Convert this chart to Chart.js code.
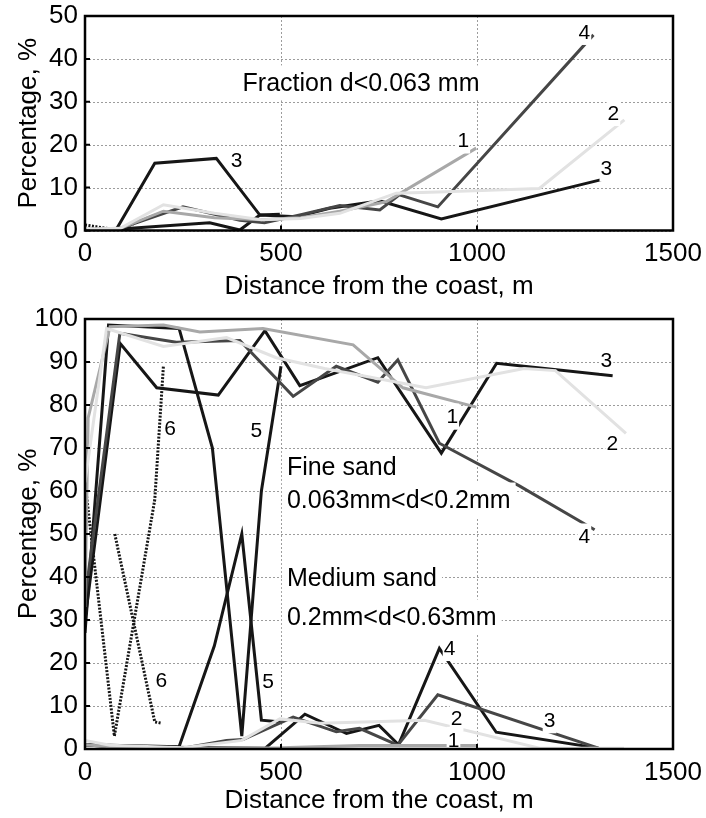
<!DOCTYPE html>
<html>
<head>
<meta charset="utf-8">
<script src="https://cdn.jsdelivr.net/npm/chart.js@4.4.1/dist/chart.umd.min.js"></script>
<style>
  body { margin: 0; background: #fff; }
  canvas { display: block; }
</style>
</head>
<body>
<canvas id="fractionChart" width="706" height="305"></canvas>
<canvas id="sandChart" width="706" height="513"></canvas>
<script>
// fraction d<0.063 mm, [distance m, percentage]
const fraction1 = [[0,0.3],[90,0.5],[200,4.5],[330,3],[450,2.5],[550,3],[650,4.5],[768,6.7],[998,19.2]];
const fraction2 = [[0,0.3],[90,0.5],[200,6],[330,4],[450,2.5],[550,2.8],[650,4],[794,8.7],[900,9],[1159,9.8],[1376,25.8]];
const fraction3 = [[0,0.2],[80,0.3],[178,15.7],[335,16.8],[446,3.6],[497,3.8]];
const fraction3b = [[0,0.2],[80,0.3],[318,1.8],[395,0.1],[446,3.6],[540,3.2],[624,5.2],[752,6.9],[909,2.7],[1346,12.5]];
const fraction4 = [[0,0.2],[90,0.5],[250,5.5],[395,2.4],[458,1.8],[548,3.6],[650,5.8],[752,4.8],[802,8.3],[900,5.5],[1297,45.6]];
const fraction6 = [[0,1.3],[81,0.1],[191,4]];

// fine sand 0.063-0.2 mm
const fine1 = [[0,33],[8,77],[64,98.2],[200,98.6],[293,97],[454,97.8],[684,94],[811,84],[998,79.5]];
const fine2 = [[0,62],[55,97.8],[200,93.6],[361,95.7],[488,91],[611,88.5],[870,84],[1120,88.5],[1200,88],[1380,73.4]];
const fine3 = [[0,30],[90,94.3],[183,84],[340,82.3],[459,97.3],[548,84.5],[747,91],[909,68.8],[1050,89.7],[1346,86.8]];
const fine4 = [[0,35],[89,96.7],[233,94.6],[395,95],[531,82],[641,89],[747,85.3],[798,90.5],[904,71.1],[1108,61.2],[1300,51]];
const fine5 = [[0,27],[60,98.6],[240,97.8],[325,70],[400,3],[450,60],[500,89]];
const fine6 = [[0,62],[75,3],[178,58],[200,89]];

// medium sand 0.2-0.63 mm
const medium1 = [[0,1],[64,0.5],[250,0.2],[500,0.3],[700,0.8],[1000,0.8]];
const medium2 = [[0,2],[64,0.9],[250,0.3],[400,2],[497,7],[600,6],[866,6.7],[1159,0.2],[1375,0.2]];
const medium3 = [[0,1],[90,0.3],[250,0.2],[361,2],[403,2.2],[531,7.4],[641,4],[700,4.8],[798,0.9],[900,12.6],[1310,0.2]];
const medium4 = [[0,1],[90,0.5],[460,0.2],[561,8.1],[667,3.6],[750,5.5],[800,1],[904,23.4],[1049,3.9],[1310,0.2]];
const medium5 = [[0,1],[90,0.8],[240,0.5],[330,24],[400,50],[450,6.7],[500,6.3]];
const medium6 = [[76,50],[178,6.3],[195,6]];

const xTitle = 'Distance from the coast, m';
const yTitle = 'Percentage, %';

const BLACK = '#161616', DARK = '#464646', MID = '#a8a8a8', LIGHT = '#e2e2e2';
const FONT = 'Arial, "Liberation Sans", sans-serif';

function series(points, color, dotted) {
  return {
    data: points.map(p => ({ x: p[0], y: p[1] })),
    borderColor: color,
    borderWidth: 3,
    borderDash: dotted ? [2, 1.5] : [],
    pointRadius: 0,
    tension: 0,
    fill: false
  };
}

const framePlugin = {
  id: 'frame',
  beforeDatasetsDraw(chart) {
    // dotted grid
    const { ctx, chartArea: a, scales: { x, y } } = chart;
    ctx.save();
    ctx.strokeStyle = '#9c9c9c';
    ctx.lineWidth = 1;
    ctx.setLineDash([2, 2]);
    ctx.beginPath();
    x.ticks.forEach(t => {
      const px = Math.round(x.getPixelForValue(t.value)) + 0.5;
      ctx.moveTo(px, a.top);
      ctx.lineTo(px, a.bottom);
    });
    y.ticks.forEach(t => {
      const py = Math.round(y.getPixelForValue(t.value)) + 0.5;
      ctx.moveTo(a.left, py);
      ctx.lineTo(a.right, py);
    });
    ctx.stroke();
    ctx.restore();
  },
  afterDatasetsDraw(chart, args, opts) {
    const { ctx, chartArea: a, scales: { x, y } } = chart;
    ctx.save();
    // text notes with white boxes
    (opts.notes || []).forEach(n => {
      ctx.font = n.size + 'px ' + FONT;
      ctx.textBaseline = 'middle';
      const w = ctx.measureText(n.text).width;
      const px = x.getPixelForValue(n.x);
      const py = y.getPixelForValue(n.y);
      const left = n.align === 'left' ? px : px - w / 2;
      const pad = n.pad;
      ctx.fillStyle = '#fff';
      ctx.fillRect(left - pad, py - n.size * 0.6 - pad / 2, w + pad * 2, n.size * 1.2 + pad);
      ctx.fillStyle = '#000';
      ctx.textAlign = 'left';
      ctx.fillText(n.text, left, py + 1);
    });
    // inner tick marks
    ctx.strokeStyle = '#000';
    ctx.lineWidth = 2;
    ctx.beginPath();
    x.ticks.forEach(t => {
      const px = x.getPixelForValue(t.value);
      ctx.moveTo(px, a.bottom);
      ctx.lineTo(px, a.bottom - 5);
    });
    y.ticks.forEach(t => {
      const py = y.getPixelForValue(t.value);
      ctx.moveTo(a.left, py);
      ctx.lineTo(a.left + 5, py);
    });
    ctx.stroke();
    // box
    ctx.lineWidth = 2.5;
    ctx.strokeRect(a.left, a.top, a.right - a.left, a.bottom - a.top);
    ctx.restore();
  }
};

function makeOptions(yMax, xAxisHeight, titleBottomPad, topPad, notes) {
  const tickFont = { family: FONT, size: 26 };
  return {
    responsive: false,
    animation: false,
    layout: { padding: { left: 0, right: 33, top: topPad, bottom: 0 } },
    plugins: {
      legend: { display: false },
      tooltip: { enabled: false },
      frame: { notes: notes }
    },
    scales: {
      x: {
        type: 'linear',
        min: 0, max: 1500,
        border: { display: false },
        grid: { display: false, drawTicks: false },
        ticks: { stepSize: 500, padding: 8, color: '#000', font: tickFont, maxRotation: 0, callback: v => String(v) },
        title: { display: true, text: xTitle, color: '#000', font: tickFont, padding: { top: 0, bottom: titleBottomPad } },
        afterFit: s => { s.height = xAxisHeight; s.paddingLeft = 0; s.paddingRight = 0; }
      },
      y: {
        min: 0, max: yMax,
        border: { display: false },
        grid: { display: false, drawTicks: false },
        ticks: { stepSize: 10, padding: 7, color: '#000', font: tickFont, callback: v => String(v) },
        title: { display: true, text: yTitle, color: '#000', font: tickFont, padding: { top: 13, bottom: 0 } },
        afterFit: s => { s.width = 85; s.paddingTop = 0; s.paddingBottom = 0; }
      }
    }
  };
}

const num = (text, x, y) => ({ text, x, y, size: 21, pad: 1, align: 'center' });
const note = (text, x, y) => ({ text, x, y, size: 25, pad: 5, align: 'left' });

new Chart(document.getElementById('fractionChart'), {
  type: 'line',
  data: {
    datasets: [
      series(fraction2, LIGHT),
      series(fraction1, MID),
      series(fraction4, DARK),
      series(fraction3b, BLACK),
      series(fraction3, BLACK),
      series(fraction6, BLACK, true)
    ]
  },
  options: makeOptions(50, 74.5, 3, 16, [
    note('Fraction d<0.063 mm', 402, 34.4),
    num('3', 387, 16.4),
    num('1', 965, 21),
    num('4', 1274, 46.3),
    num('2', 1348, 27.4),
    num('3', 1330, 14.5)
  ]),
  plugins: [framePlugin]
});

new Chart(document.getElementById('sandChart'), {
  type: 'line',
  data: {
    datasets: [
      series(fine2, LIGHT),
      series(medium2, LIGHT),
      series(fine1, MID),
      series(medium1, MID),
      series(fine4, DARK),
      series(medium3, DARK),
      series(fine3, BLACK),
      series(medium4, BLACK),
      series(fine5, BLACK),
      series(medium5, BLACK),
      series(fine6, BLACK, true),
      series(medium6, BLACK, true)
    ]
  },
  options: makeOptions(100, 69, 1.5, 14, [
    note('Fine sand', 515, 65.6),
    note('0.063mm<d<0.2mm', 515, 57.9),
    note('Medium sand', 515, 39.8),
    note('0.2mm<d<0.63mm', 515, 30.7),
    num('6', 217, 74.6),
    num('5', 437, 74.2),
    num('1', 937, 77.3),
    num('3', 1330, 90.5),
    num('2', 1345, 71.2),
    num('4', 1274, 49.4),
    num('6', 195, 16),
    num('5', 467, 15.7),
    num('4', 930, 23.5),
    num('2', 948, 7.2),
    num('1', 940, 2.1),
    num('3', 1185, 6.7)
  ]),
  plugins: [framePlugin]
});
</script>
</body>
</html>
